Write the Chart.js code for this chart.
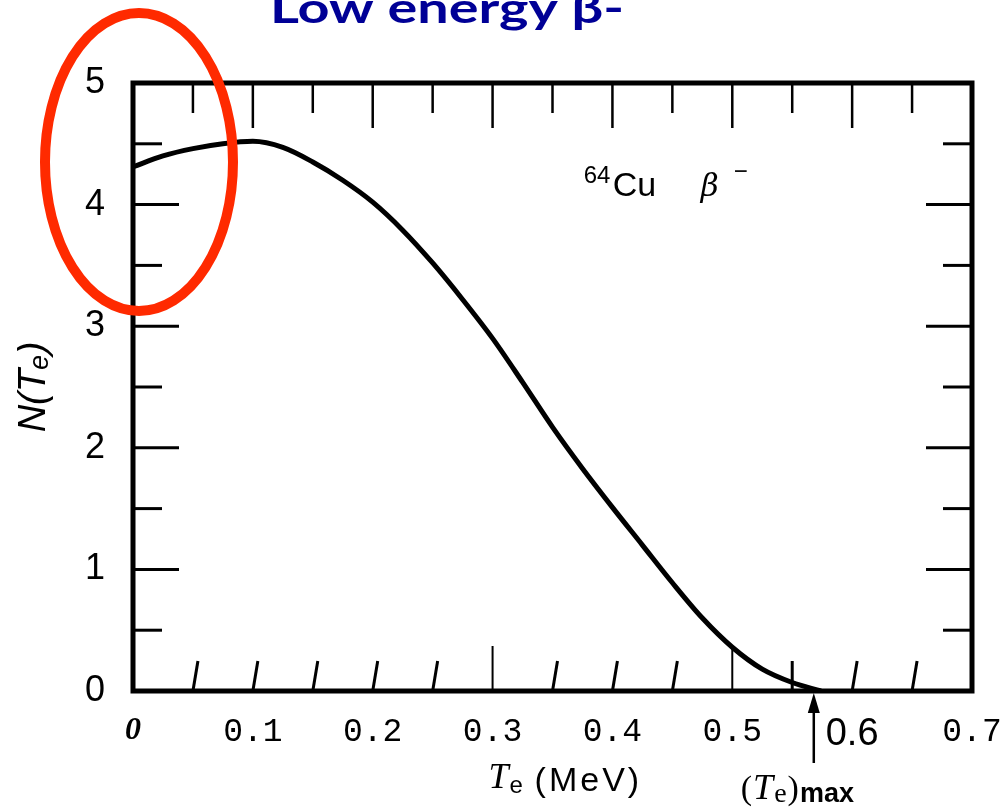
<!DOCTYPE html>
<html>
<head>
<meta charset="utf-8">
<script src="https://cdn.jsdelivr.net/npm/chart.js@4.4.1/dist/chart.umd.min.js"></script>
<style>
  html, body { margin: 0; padding: 0; background: #fff; }
  canvas { display: block; }
</style>
</head>
<body>
<canvas id="spectrum" width="1003" height="807"></canvas>
<script>
// 64Cu beta- spectrum
const energyMeV = [0, 0.025, 0.05, 0.075, 0.1, 0.125, 0.15, 0.175, 0.2, 0.225, 0.25, 0.275,
  0.3, 0.325, 0.35, 0.375, 0.4, 0.425, 0.45, 0.475, 0.5, 0.525, 0.55, 0.574];
const nTe = [4.31, 4.40, 4.46, 4.50, 4.52, 4.47, 4.35, 4.20, 4.02, 3.79, 3.52, 3.22,
  2.90, 2.54, 2.17, 1.83, 1.51, 1.20, 0.89, 0.60, 0.36, 0.18, 0.07, 0];
const xTickLabels = ['0', '0.1', '0.2', '0.3', '0.4', '0.5', '0.6', '0.7'];
const yTickLabels = ['0', '1', '2', '3', '4', '5'];
const tMax = 0.568;           // (Te)max arrow
const titleText = 'Low energy β-';

const near = (v, n) => Math.abs(v - n) < 1e-6;
const isTenth = v => near(v * 10, Math.round(v * 10));

// fixed box sizes so the plot sits where the scan has it
function fitX(scale) {
  scale.height = 116;
  scale.paddingLeft = scale.paddingRight = 0;
}
function fitY(scale) {
  scale.width = 133;
  scale.paddingTop = scale.paddingBottom = 0;
}

function line(ctx, x1, y1, x2, y2, w) {
  ctx.lineWidth = w;
  ctx.beginPath();
  ctx.moveTo(x1, y1);
  ctx.lineTo(x2, y2);
  ctx.stroke();
}

// draw text pieces left to right: [text, font, baseline]
function runText(ctx, x0, parts, gap) {
  let cx = x0;
  parts.forEach(([s, f, by]) => {
    ctx.font = f;
    ctx.fillText(s, cx, by);
    cx += ctx.measureText(s).width + gap;
  });
}

const decor = {
  id: 'decor',
  afterDraw(chart) {
    const { ctx, chartArea: a, scales: { x, y } } = chart;
    ctx.save();
    ctx.strokeStyle = '#000';
    ctx.fillStyle = '#000';
    ctx.textBaseline = 'alphabetic';
    ctx.textAlign = 'left';

    // frame
    ctx.lineWidth = 5;
    ctx.strokeRect(a.left, a.top, a.right - a.left, a.bottom - a.top);

    // inward ticks top / bottom
    x.ticks.forEach((t, i) => {
      if (i === 0 || i === x.ticks.length - 1) return;
      const px = x.getPixelForValue(t.value);
      line(ctx, px, a.top, px, a.top + (isTenth(t.value) ? 45 : 30), 2.5);
      if (near(t.value, 0.3) || near(t.value, 0.5)) {
        line(ctx, px, a.bottom, px, a.bottom - 45, 2);
      } else if (near(t.value, 0.55)) {
        line(ctx, px, a.bottom, px, a.bottom - 30, 3);
      } else {
        line(ctx, px, a.bottom, px + 5, a.bottom - 30, 3);
      }
    });

    // inward ticks left / right
    y.ticks.forEach((t, i) => {
      if (i === 0 || i === y.ticks.length - 1) return;
      const py = y.getPixelForValue(t.value);
      const len = near(t.value, Math.round(t.value)) ? 46 : 29;
      line(ctx, a.left, py, a.left + len, py, 3);
      line(ctx, a.right, py, a.right - len, py, 3);
    });

    // x axis title  Te (MeV)
    const tx = x.getPixelForValue(0.3) - 4;
    runText(ctx, tx, [
      ['T', 'italic 36px "Liberation Serif"', 788],
      ['e', '24px "Liberation Sans"', 793]
    ], 1);
    ctx.letterSpacing = '3px';
    ctx.font = '34px "Liberation Sans"';
    ctx.fillText('(MeV)', tx + 46, 791);
    ctx.letterSpacing = '0px';

    // (Te)max arrow
    const ax = x.getPixelForValue(tMax);
    line(ctx, ax, a.bottom + 14, ax, a.bottom + 72, 2.5);
    ctx.beginPath();
    ctx.moveTo(ax, a.bottom + 2);
    ctx.lineTo(ax - 6, a.bottom + 22);
    ctx.lineTo(ax + 6, a.bottom + 22);
    ctx.closePath();
    ctx.fill();

    // (Te)max label
    runText(ctx, ax - 73, [
      ['(', '34px "Liberation Serif"', 799],
      ['T', 'italic 36px "Liberation Serif"', 799],
      ['e', '28px "Liberation Serif"', 802],
      [')', '34px "Liberation Serif"', 799],
      ['max', 'bold 27px "Liberation Sans"', 802]
    ], 1);

    // isotope note
    const nx = x.getPixelForValue(0.376);
    const ny = y.getPixelForValue(4.07);
    ctx.font = '24px "Liberation Sans"';
    ctx.fillText('64', nx, ny - 13);
    ctx.font = '34px "Liberation Sans"';
    ctx.fillText('Cu', nx + 29, ny);
    ctx.font = 'italic 31px "DejaVu Serif"';
    ctx.fillText('β', nx + 117, ny);
    ctx.font = '24px "Liberation Sans"';
    ctx.fillText('−', nx + 150, ny - 17);

    // slide title, cut off at the top edge
    ctx.font = 'bold 42px Lato';
    ctx.fillStyle = '#000096';
    const w = ctx.measureText(titleText).width;
    ctx.save();
    ctx.translate(270, 23);
    ctx.scale(354 / w, 1);
    ctx.fillText(titleText, 0, 0);
    ctx.restore();

    // red highlight ellipse
    ctx.strokeStyle = '#ff2a00';
    ctx.lineWidth = 10;
    ctx.beginPath();
    ctx.ellipse(x.getPixelForValue(0.005), y.getPixelForValue(4.35), 94, 149, 0, 0, Math.PI * 2);
    ctx.stroke();

    ctx.restore();
  }
};

new Chart(document.getElementById('spectrum'), {
  type: 'line',
  data: {
    datasets: [{
      label: 'N(Te)',
      data: energyMeV.map((e, i) => ({ x: e, y: nTe[i] })),
      borderColor: '#000',
      borderWidth: 5,
      pointRadius: 0,
      fill: false,
      cubicInterpolationMode: 'monotone'
    }]
  },
  options: {
    responsive: false,
    animation: false,
    devicePixelRatio: 1,
    layout: { padding: { top: 83, right: 31, left: 0, bottom: 0 } },
    plugins: { legend: { display: false }, title: { display: false }, tooltip: { enabled: false } },
    scales: {
      x: {
        type: 'linear',
        min: 0,
        max: 0.7,
        afterFit: fitX,
        grid: { display: false },
        border: { display: false },
        ticks: {
          stepSize: 0.05,
          autoSkip: false,
          maxRotation: 0,
          padding: 13,
          color: '#000',
          font: ctx => {
            const v = ctx.tick ? ctx.tick.value : 1;
            if (near(v, 0)) return { family: '"Liberation Serif"', size: 32, style: 'italic', weight: 'bold' };
            if (near(v, 0.6)) return { family: '"Liberation Sans"', size: 38 };
            return { family: '"Liberation Mono"', size: 33 };
          },
          callback: v => isTenth(v) ? xTickLabels[Math.round(v * 10)] : ''
        },
        title: { display: false }
      },
      y: {
        min: 0,
        max: 5,
        afterFit: fitY,
        grid: { display: false },
        border: { display: false },
        ticks: {
          stepSize: 0.5,
          autoSkip: false,
          padding: 20,
          color: '#000',
          font: { family: '"Liberation Sans"', size: 36 },
          callback: v => near(v, Math.round(v)) ? yTickLabels[Math.round(v)] : ''
        },
        title: {
          display: true,
          text: 'N(Tₑ)',
          color: '#000',
          font: { family: '"Liberation Sans"', size: 38, style: 'italic' },
          padding: { top: 12, bottom: 12 }
        }
      }
    }
  },
  plugins: [decor]
});
</script>
</body>
</html>
